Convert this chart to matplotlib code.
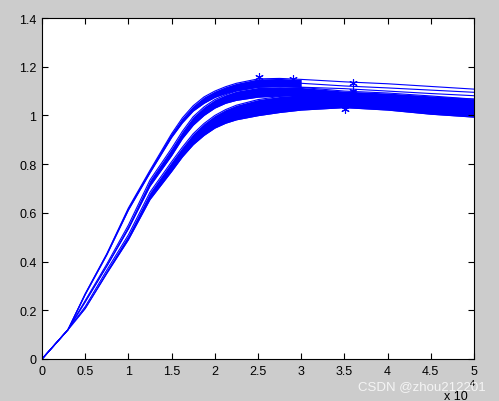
import matplotlib.pyplot as plt

# =====================================================
# DATA (x in units of 1e4)
# =====================================================

xs = [0, 0.3, 0.5, 0.75, 1.0, 1.25, 1.5, 1.625, 1.75, 1.875,
      2.0, 2.125, 2.25, 2.5, 2.75, 3.0, 3.5, 4.0, 4.5, 5.0]

# upper family
a_top = [0, 0.12, 0.268, 0.432, 0.62, 0.775, 0.925, 0.99, 1.04, 1.076,
         1.10, 1.118, 1.132, 1.150, 1.152, 1.148, 1.138, 1.13, 1.119, 1.108]
a_mid = [0, 0.12, 0.266, 0.430, 0.616, 0.770, 0.918, 0.98, 1.028, 1.062,
         1.087, 1.104, 1.117, 1.133, 1.136, 1.132, 1.121, 1.113, 1.104, 1.095]
a_bot = [0, 0.12, 0.265, 0.428, 0.612, 0.765, 0.91, 0.97, 1.018, 1.05,
         1.074, 1.09, 1.102, 1.117, 1.12, 1.116, 1.11, 1.10, 1.09, 1.081]

# middle family
b_top = [0, 0.12, 0.24, 0.39, 0.55, 0.735, 0.865, 0.935, 0.995, 1.035,
         1.065, 1.085, 1.10, 1.115, 1.118, 1.115, 1.10, 1.092, 1.08, 1.067]
b_bot = [0, 0.12, 0.235, 0.382, 0.535, 0.71, 0.835, 0.905, 0.96, 1.0,
         1.03, 1.05, 1.062, 1.075, 1.08, 1.082, 1.08, 1.073, 1.067, 1.06]

# lower family
c_top = [0, 0.12, 0.215, 0.365, 0.51, 0.685, 0.81, 0.87, 0.925, 0.967,
         1.00, 1.024, 1.042, 1.065, 1.078, 1.085, 1.09, 1.085, 1.075, 1.067]
c_bot = [0, 0.12, 0.208, 0.352, 0.49, 0.655, 0.77, 0.83, 0.88, 0.918,
         0.948, 0.968, 0.982, 0.999, 1.012, 1.022, 1.032, 1.022, 1.005, 0.993]

# peak markers
peak_x = [2.51, 2.91, 3.60, 3.60, 3.51]
peak_y = [1.158, 1.148, 1.132, 1.10, 1.026]

xticks = [0, 0.5, 1, 1.5, 2, 2.5, 3, 3.5, 4, 4.5, 5]
xticklabels = ["0", "0.5", "1", "1.5", "2", "2.5", "3", "3.5", "4", "4.5", "5"]
yticks = [0, 0.2, 0.4, 0.6, 0.8, 1, 1.2, 1.4]
yticklabels = ["0", "0.2", "0.4", "0.6", "0.8", "1", "1.2", "1.4"]

# =====================================================
# PLOT
# =====================================================

plt.rcParams['font.family'] = ['Liberation Sans', 'DejaVu Sans']
blue = "#0000ff"

fig = plt.figure(figsize=(4.99, 4.02), dpi=100, facecolor="#cccccc")
ax = fig.add_axes([0.0842, 0.1045, 0.8657, 0.8482])
ax.set_facecolor("white")

cut = 16  # upper family drawn as a solid band only up to x = 3
ax.fill_between(xs[:cut], a_bot[:cut], a_top[:cut], color=blue, lw=0)
ax.fill_between(xs, b_bot, b_top, color=blue, lw=0)
ax.fill_between(xs, c_bot, c_top, color=blue, lw=0)

for ys in [a_top, a_mid, a_bot, b_top, b_bot, c_top, c_bot]:
    ax.plot(xs, ys, color=blue, lw=0.8)

ax.plot(peak_x, peak_y, linestyle="none", marker=(6, 2, 0), color=blue,
        markersize=6, markeredgewidth=0.8)

ax.set_xlim(0, 5)
ax.set_ylim(0, 1.4)
ax.set_xticks(xticks)
ax.set_xticklabels(xticklabels)
ax.set_yticks(yticks)
ax.set_yticklabels(yticklabels)
ax.tick_params(direction="in", length=4, width=0.8, labelsize=9,
               top=True, right=True, pad=4)
for s in ax.spines.values():
    s.set_linewidth(0.8)

fig.text(0.913, 0.004, "x 10", fontsize=9, ha="center", va="baseline")
fig.text(0.946, 0.036, "4", fontsize=6.5, ha="center", va="bottom")
fig.text(0.718, 0.022, "CSDN @zhou212201", fontsize=9.5, color="white",
         alpha=0.8, ha="left", va="bottom")

plt.savefig("out.png", dpi=100, facecolor=fig.get_facecolor())
